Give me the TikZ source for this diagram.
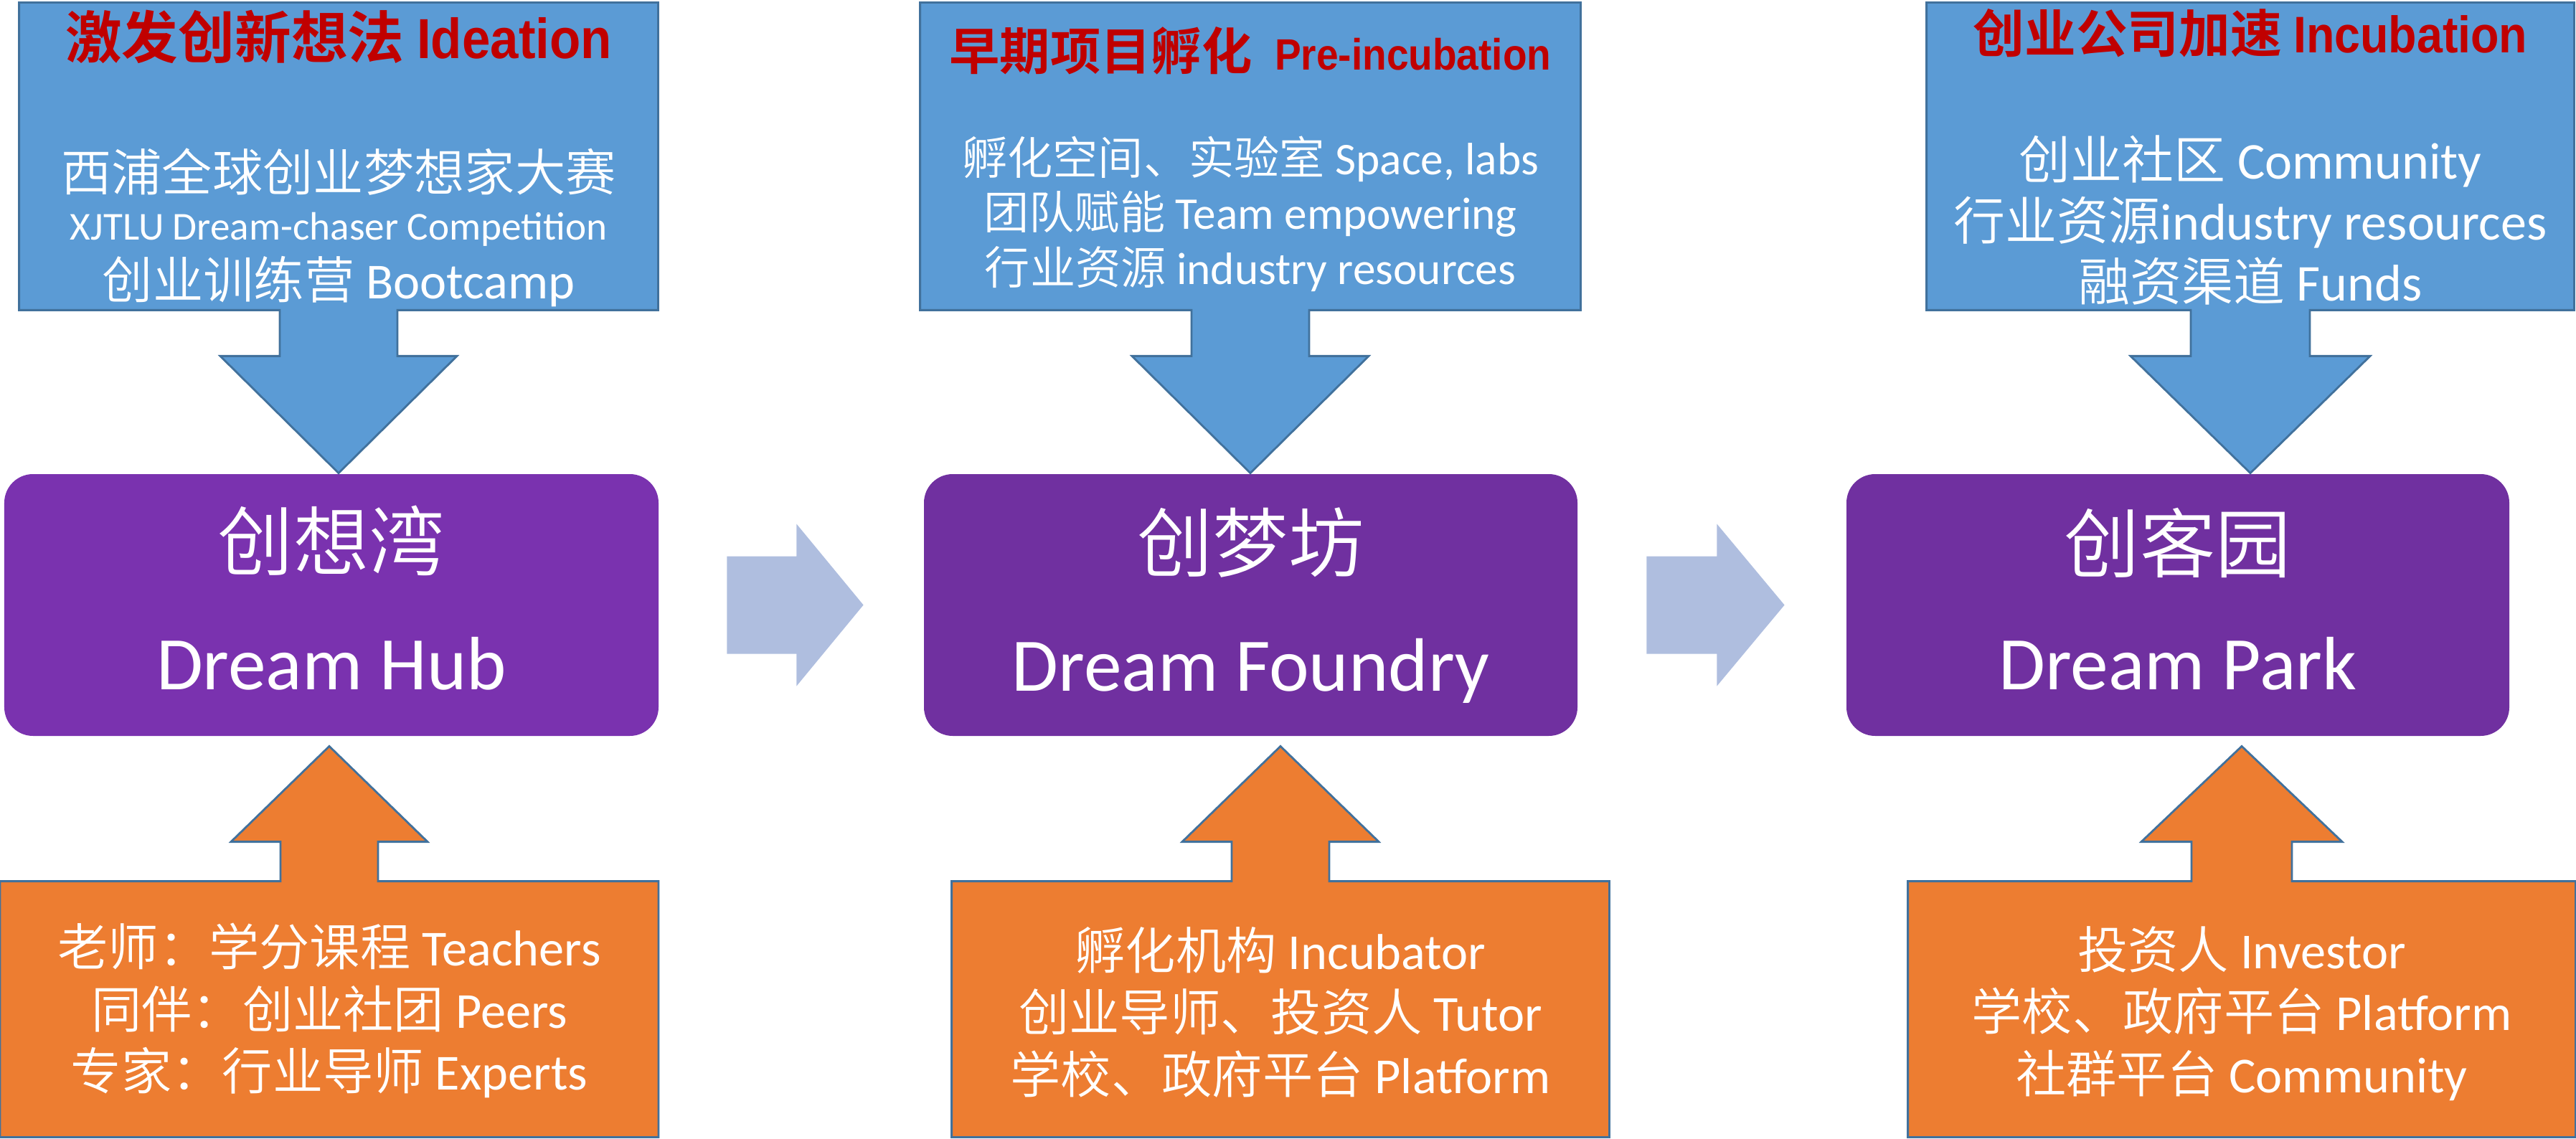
\documentclass[tikz,border=0pt]{standalone}
\usepackage{fontspec}
\setmainfont{Carlito}
\newfontfamily\cjk{Noto Sans CJK SC DemiLight}
\newfontfamily\cjkbf{Noto Sans CJK SC Bold}
\newfontfamily\headlat{Liberation Sans Bold}[FakeStretch=0.9]
\usetikzlibrary{calc}
\definecolor{callblue}{HTML}{5B9BD5}
\definecolor{edgeblue}{HTML}{41719C}
\definecolor{callorange}{HTML}{ED7D31}
\definecolor{hubpurple}{HTML}{7A32AF}
\definecolor{stagepurple}{HTML}{7030A0}
\definecolor{flowblue}{HTML}{AFBEDF}
\definecolor{headred}{HTML}{C00000}
\newcommand\zh[1]{{\cjk #1}}
\newcommand\zhb[1]{{\cjkbf #1}}
\begin{document}
\begin{tikzpicture}[line width=0.8pt,
    callbox/.style={rectangle,inner sep=0pt},
    stagebox/.style={rectangle,rounded corners=0.4cm,inner sep=0pt,minimum height=3.65cm},
    whitetext/.style={text=white,align=center,inner sep=0pt,font=\fontsize{20}{24.6}\selectfont},
    stagetext/.style={text=white,inner sep=0pt,font=\fontsize{30}{36}\selectfont},
    headtext/.style={text=headred,inner sep=0pt},
    downcall/.style={fill=callblue,draw=edgeblue},
    upcall/.style={fill=callorange,draw=edgeblue},
    flowarrow/.style={fill=flowblue}]
  \useasboundingbox (0,0) rectangle (35.91,-15.88);
      \node[callbox,minimum width=8.88cm,minimum height=4.26cm] (T1) at (4.72,-2.18) {};
        \node[callbox,minimum width=9.18cm,minimum height=4.26cm] (T2) at (17.43,-2.18) {};
          \node[callbox,minimum width=9.00cm,minimum height=4.26cm] (T3) at (31.37,-2.18) {};
      \node[stagebox,fill=hubpurple,minimum width=9.12cm] (M1) at (4.62,-8.435) {};
        \node[stagebox,fill=stagepurple,minimum width=9.11cm] (M2) at (17.435,-8.435) {};
          \node[stagebox,fill=stagepurple,minimum width=9.24cm] (M3) at (30.36,-8.435) {};
      \node[callbox,minimum width=9.15cm,minimum height=3.54cm] (B1) at (4.59,-14.07) {};
        \node[callbox,minimum width=9.14cm,minimum height=3.54cm] (B2) at (17.85,-14.07) {};
          \node[callbox,minimum width=9.28cm,minimum height=3.54cm] (B3) at (31.25,-14.07) {};
  % blue callouts down to the stages
  \filldraw[downcall] (T1.north west)--(T1.north east)--(T1.south east)--($(T1.south)+(0.82,0)$)--++(0,-0.64)--++(0.83,0)
     --(T1.south |- M1.north)--($(T1.south)+(-1.65,-0.64)$)--++(0.83,0)--($(T1.south)+(-0.82,0)$)--(T1.south west)--cycle;
  \filldraw[downcall] (T2.north west)--(T2.north east)--(T2.south east)--($(T2.south)+(0.82,0)$)--++(0,-0.64)--++(0.83,0)
     --(T2.south |- M2.north)--($(T2.south)+(-1.65,-0.64)$)--++(0.83,0)--($(T2.south)+(-0.82,0)$)--(T2.south west)--cycle;
  \filldraw[downcall] (T3.north west)--(T3.north east)--(T3.south east)--($(T3.south)+(0.83,0)$)--++(0,-0.64)--++(0.84,0)
     --(T3.south |- M3.north)--($(T3.south)+(-1.67,-0.64)$)--++(0.84,0)--($(T3.south)+(-0.83,0)$)--(T3.south west)--cycle;
  % orange callouts up to the stages
  \filldraw[upcall] (B1.south west)--(B1.north west)--($(B1.north)+(-0.68,0)$)--++(0,0.55)--++(-0.69,0)
     --($(B1.north |- M1.south)+(0,-0.13)$)--($(B1.north)+(1.37,0.55)$)--++(-0.69,0)--++(0,-0.55)--(B1.north east)--(B1.south east)--cycle;
  \filldraw[upcall] (B2.south west)--(B2.north west)--($(B2.north)+(-0.68,0)$)--++(0,0.55)--++(-0.69,0)
     --($(B2.north |- M2.south)+(0,-0.13)$)--($(B2.north)+(1.37,0.55)$)--++(-0.69,0)--++(0,-0.55)--(B2.north east)--(B2.south east)--cycle;
  \filldraw[upcall] (B3.south west)--(B3.north west)--($(B3.north)+(-0.70,0)$)--++(0,0.55)--++(-0.70,0)
     --($(B3.north |- M3.south)+(0,-0.13)$)--($(B3.north)+(1.40,0.55)$)--++(-0.70,0)--++(0,-0.55)--(B3.north east)--(B3.south east)--cycle;
  % light arrows between the stages
  \fill[flowarrow] ($(M1.east)+(0.94,0.68)$)--++(0.97,0)--++(0,0.45)--($(M2.west)+(-0.83,0)$)
     --($(M1.east)+(1.91,-1.13)$)--++(0,0.45)--++(-0.97,0)--cycle;
  \fill[flowarrow] ($(M2.east)+(0.95,0.68)$)--++(0.98,0)--++(0,0.45)--($(M3.west)+(-0.85,0)$)
     --($(M2.east)+(1.93,-1.13)$)--++(0,0.45)--++(-0.98,0)--cycle;
  % texts
  \node[headtext,font=\fontsize{22.4}{26}\selectfont] (H1) at (4.72,-0.51) {\zhb{激发创新想法} {\headlat Ideation}};
  \node[headtext,font=\fontsize{20}{24}\selectfont] (H2) at (17.43,-0.71) {\zhb{早期项目孵化}\ \ {\fontsize{17.4}{20}\selectfont\headlat Pre-incubation}};
  \node[headtext,font=\fontsize{20.4}{24}\selectfont] (H3) at (31.37,-0.46) {\zhb{创业公司加速} {\headlat Incubation}};
  \node[whitetext] (L1a) at (4.72,-2.40) {\zh{西浦全球创业梦想家大赛}};
  \node[whitetext,font=\fontsize{15.7}{19}\selectfont] (L1b) at (4.72,-3.20) {XJTLU Dream-chaser Competition};
  \node[whitetext] (L1c) at (4.72,-3.93) {\zh{创业训练营} Bootcamp};
  \node[whitetext,font=\fontsize{18}{21.8}\selectfont] (L2) at (17.43,-2.98) {\zh{孵化空间、实验室} Space, labs\\ \zh{团队赋能} Team empowering\\ \zh{行业资源} industry resources};
  \node[whitetext,font=\fontsize{20.5}{24.3}\selectfont] (L3) at (31.37,-3.07) {\zh{创业社区} Community\\ \zh{行业资源}industry resources\\ \zh{融资渠道} Funds};
  \node[stagetext] (N1) at (4.62,-7.54) {\zh{创想湾}};
  \node[stagetext] (E1) at (4.62,-9.25) {Dream Hub};
  \node[stagetext] (N2) at (17.435,-7.57) {\zh{创梦坊}};
  \node[stagetext] (E2) at (17.435,-9.35) {Dream Foundry};
  \node[stagetext] (N3) at (30.36,-7.57) {\zh{创客园}};
  \node[stagetext] (E3) at (30.36,-9.25) {Dream Park};
  \node[whitetext] (S1) at (4.59,-14.09) {\zh{老师：学分课程} Teachers\\ \zh{同伴：创业社团} Peers\\ \zh{专家：行业导师} Experts};
  \node[whitetext] (S2) at (17.85,-14.11) {\zh{孵化机构} Incubator\\ \zh{创业导师、投资人} Tutor\\ \zh{学校、政府平台} Platform};
  \node[whitetext] (S3) at (31.25,-14.13) {\zh{投资人} Investor\\ \zh{学校、政府平台} Platform\\ \zh{社群平台} Community};
\end{tikzpicture}
\end{document}
